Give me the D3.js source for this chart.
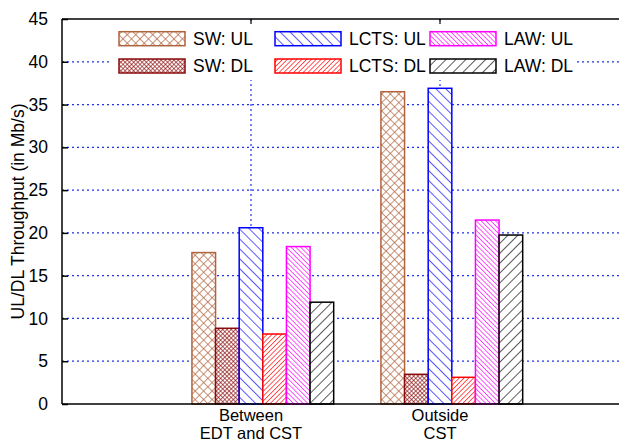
<!DOCTYPE html>
<html>
<head>
<meta charset="utf-8">
<script src="https://cdn.jsdelivr.net/npm/d3@7"></script>
<style>
  html, body { margin: 0; padding: 0; background: #fff; }
  svg text { font-family: "Liberation Sans", Arial, Helvetica, sans-serif; fill: #000; }
</style>
</head>
<body>
<svg id="chart" width="619" height="442"></svg>
<script>
// ---- data ----
const categories = ["Between\nEDT and CST", "Outside\nCST"];
const seriesNames = ["SW: UL", "SW: DL", "LCTS: UL", "LCTS: DL", "LAW: UL", "LAW: DL"];
const swUL   = [17.7, 36.5];
const swDL   = [8.85, 3.47];
const lctsUL = [20.6, 36.9];
const lctsDL = [8.18, 3.12];
const lawUL  = [18.4, 21.5];
const lawDL  = [11.9, 19.75];
const yTicks = [0, 5, 10, 15, 20, 25, 30, 35, 40, 45];
const seriesValues = [swUL, swDL, lctsUL, lctsDL, lawUL, lawDL];

// ---- styles ----
const seriesStyle = [
  {color: "#b0643e", kind: "cross", s: 6,   w: 1.4},
  {color: "#8b0a0a", kind: "cross", s: 3,   w: 1.3},
  {color: "#0000ff", kind: "back",  s: 7,   w: 1.3},
  {color: "#ff0000", kind: "fwd",   s: 3.4, w: 1.3},
  {color: "#ff00ff", kind: "back",  s: 3.4, w: 1.3},
  {color: "#000000", kind: "fwd",   s: 7,   w: 1.3}
];

const svg = d3.select("#chart");
const defs = svg.append("defs");
seriesStyle.forEach((st, i) => {
  const p = defs.append("pattern")
    .attr("id", "pat" + i)
    .attr("patternUnits", "userSpaceOnUse")
    .attr("width", st.s).attr("height", st.s)
    .attr("patternTransform", st.kind === "back" ? "rotate(-45)" : "rotate(45)");
  p.append("rect").attr("width", st.s).attr("height", st.s).attr("fill", "#fff");
  p.append("line").attr("x1", 0).attr("y1", 0).attr("x2", 0).attr("y2", st.s)
    .attr("stroke", st.color).attr("stroke-width", st.w);
  if (st.kind === "cross") {
    p.append("line").attr("x1", 0).attr("y1", 0).attr("x2", st.s).attr("y2", 0)
      .attr("stroke", st.color).attr("stroke-width", st.w);
  }
});

// ---- scales ----
const plotLeft = 62, plotTop = 19, plotBottom = 404;
const x = d3.scaleLinear().domain([-1, 2]).range([plotLeft, 629]);
const y = d3.scaleLinear().domain([0, 45]).range([plotBottom, plotTop]);
const unit = x(1) - x(0);
const inner = d3.scaleBand().domain(d3.range(seriesNames.length)).range([-0.3125 * unit, 0.4375 * unit]).padding(0);

const gridColor = "#2233ee";

// horizontal grid
svg.append("g").selectAll("line").data(yTicks.filter(t => t > 0 && t < 45)).join("line")
  .attr("x1", plotLeft).attr("x2", 619)
  .attr("y1", d => y(d)).attr("y2", d => y(d))
  .attr("stroke", gridColor).attr("stroke-width", 1.2).attr("stroke-dasharray", "2,3");

// vertical grid at categories
svg.append("g").selectAll("line").data(categories).join("line")
  .attr("x1", (d, i) => x(i)).attr("x2", (d, i) => x(i))
  .attr("y1", plotTop).attr("y2", plotBottom)
  .attr("stroke", gridColor).attr("stroke-width", 1.2).attr("stroke-dasharray", "2,3");

// bars
const barG = svg.append("g");
categories.forEach((c, ci) => {
  seriesValues.forEach((vals, si) => {
    const bx = x(ci) + inner(si);
    const bw = inner.bandwidth();
    barG.append("rect")
      .attr("x", bx).attr("y", y(vals[ci]))
      .attr("width", bw).attr("height", y(0) - y(vals[ci]))
      .attr("fill", "url(#pat" + si + ")")
      .attr("stroke", seriesStyle[si].color).attr("stroke-width", 1.5);
  });
});

// legend
const legG = svg.append("g");
legG.append("rect").attr("x", 112).attr("y", 24).attr("width", 465).attr("height", 56).attr("fill", "#fff");
const legCols = [119, 275, 430];
const legRows = [38.7, 66];
seriesNames.forEach((name, i) => {
  const col = Math.floor(i / 2), row = i % 2;
  const lx = legCols[col], ly = legRows[row];
  legG.append("rect").attr("x", lx).attr("y", ly - 7).attr("width", 66).attr("height", 14)
    .attr("fill", "url(#pat" + i + ")")
    .attr("stroke", seriesStyle[i].color).attr("stroke-width", 1.5);
  legG.append("text").attr("x", lx + 74).attr("y", ly).attr("dy", "0.35em")
    .attr("font-size", "17.5px").text(name);
});

// axes frame
const axG = svg.append("g").attr("stroke", "#000").attr("stroke-width", 1.5).attr("fill", "none");
axG.append("line").attr("x1", plotLeft).attr("x2", plotLeft).attr("y1", plotTop).attr("y2", plotBottom);
axG.append("line").attr("x1", plotLeft).attr("x2", 619).attr("y1", plotBottom).attr("y2", plotBottom);
axG.append("line").attr("x1", plotLeft).attr("x2", 619).attr("y1", plotTop).attr("y2", plotTop);

// y ticks
const yAxis = d3.axisLeft(y).tickValues(yTicks).tickSize(-6).tickPadding(14).tickFormat(d3.format("d"));
const yg = svg.append("g").attr("transform", `translate(${plotLeft},0)`).call(yAxis);
yg.select(".domain").remove();
yg.selectAll(".tick line").attr("stroke", "#000").attr("stroke-width", 1.5);
yg.selectAll(".tick text").attr("font-size", "17.5px").attr("font-family", "Liberation Sans, Arial, sans-serif").attr("fill", "#000");

// top ticks at categories
svg.append("g").selectAll("line").data(categories).join("line")
  .attr("x1", (d, i) => x(i)).attr("x2", (d, i) => x(i))
  .attr("y1", plotTop).attr("y2", plotTop + 5)
  .attr("stroke", "#000").attr("stroke-width", 1.2);

// category labels
categories.forEach((c, ci) => {
  const t = svg.append("text").attr("text-anchor", "middle").attr("font-size", "16.5px");
  c.split("\n").forEach((line, li) => {
    t.append("tspan").attr("x", x(ci)).attr("y", 420.5 + li * 18).text(line);
  });
});

// y label
svg.append("text")
  .attr("transform", `translate(24,${(plotTop + plotBottom) / 2}) rotate(-90)`)
  .attr("text-anchor", "middle").attr("font-size", "17.5px")
  .text("UL/DL Throughput (in Mb/s)");
</script>
</body>
</html>
